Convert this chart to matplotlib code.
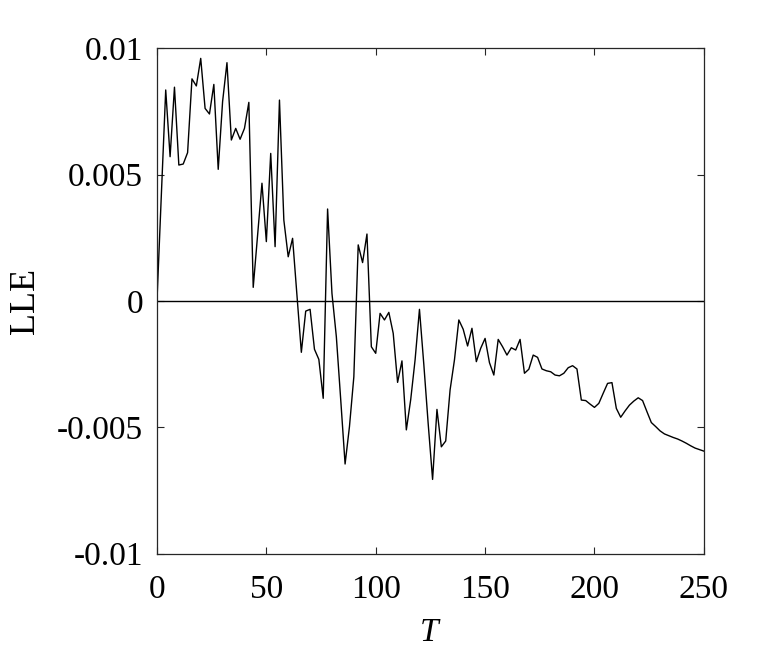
import numpy as np
import matplotlib
matplotlib.use("Agg")
import matplotlib.pyplot as plt

# sampling times (every 2 units, 0..250)
T = np.arange(0, 251, 2)

# LLE values, one per sample
lle = [
    0.0, 0.0042, 0.00835, 0.00571, 0.00846, 0.00538, 0.00542, 0.00587,
    0.00879, 0.00851, 0.0096, 0.00762, 0.0074, 0.00857, 0.00521, 0.00789,
    0.00943, 0.00637, 0.00683, 0.0064, 0.00683, 0.00786, 0.00054, 0.0026,
    0.00466, 0.00235, 0.00584, 0.00215, 0.00795, 0.0032, 0.00175, 0.00248,
    0.00022, -0.00203, -0.0004, -0.00033, -0.00191, -0.00231, -0.00385, 0.00364,
    0.0003, -0.00141, -0.0039, -0.00645, -0.00497, -0.003, 0.00222, 0.00152,
    0.00265, -0.00181, -0.00207, -0.00049, -0.00075, -0.00045, -0.00128, -0.00322,
    -0.00237, -0.0051, -0.0039, -0.00233, -0.00033, -0.00252, -0.00487, -0.00706,
    -0.00429, -0.00577, -0.00554, -0.00352, -0.00233, -0.00075, -0.00112, -0.00178,
    -0.00108, -0.0024, -0.00187, -0.00148, -0.00244, -0.00293, -0.00152, -0.00181,
    -0.00214, -0.00185, -0.00194, -0.00152, -0.00286, -0.0027, -0.00214, -0.00223,
    -0.00269, -0.00276, -0.0028, -0.00293, -0.00296, -0.00286, -0.00264, -0.00256,
    -0.00269, -0.00392, -0.00394, -0.00408, -0.00421, -0.00405, -0.00365, -0.00326,
    -0.00323, -0.00425, -0.0046, -0.00435, -0.00412, -0.00396, -0.00383, -0.00394,
    -0.00438, -0.00481, -0.00497, -0.00514, -0.00526, -0.00533, -0.0054, -0.00546,
    -0.00554, -0.00563, -0.00573, -0.00582, -0.00588, -0.00594,
]

xticks = [0, 50, 100, 150, 200, 250]
yticks = [-0.01, -0.005, 0, 0.005, 0.01]
ytick_labels = ["-0.01", "-0.005", "0", "0.005", "0.01"]

plt.rcParams['font.family'] = ['Liberation Serif', 'DejaVu Serif']
plt.rcParams['mathtext.fontset'] = 'custom'
plt.rcParams['mathtext.it'] = 'Liberation Serif:italic'

fig = plt.figure(figsize=(7.79, 6.48), dpi=100)
ax = fig.add_axes([0.2015, 0.1455, 0.702, 0.78])

ax.plot(T, lle, color='black', linewidth=1.0)
ax.axhline(0, color='black', linewidth=1.0)

ax.set_xlim(0, 250)
ax.set_ylim(-0.01, 0.01)
ax.set_xticks(xticks)
ax.set_yticks(yticks)
ax.set_yticklabels(ytick_labels)

ax.tick_params(direction='in', length=5, width=0.8, labelsize=24,
               top=True, right=True, colors='#262626', labelcolor='black')
ax.tick_params(axis='x', pad=15)
ax.tick_params(axis='y', pad=10)
for sp in ax.spines.values():
    sp.set_color('#262626')
    sp.set_linewidth(0.9)

ax.set_xlabel('$T$', fontsize=24, labelpad=9)
ax.set_ylabel('LLE', fontsize=26, labelpad=11)

fig.savefig('out.png', dpi=100)
